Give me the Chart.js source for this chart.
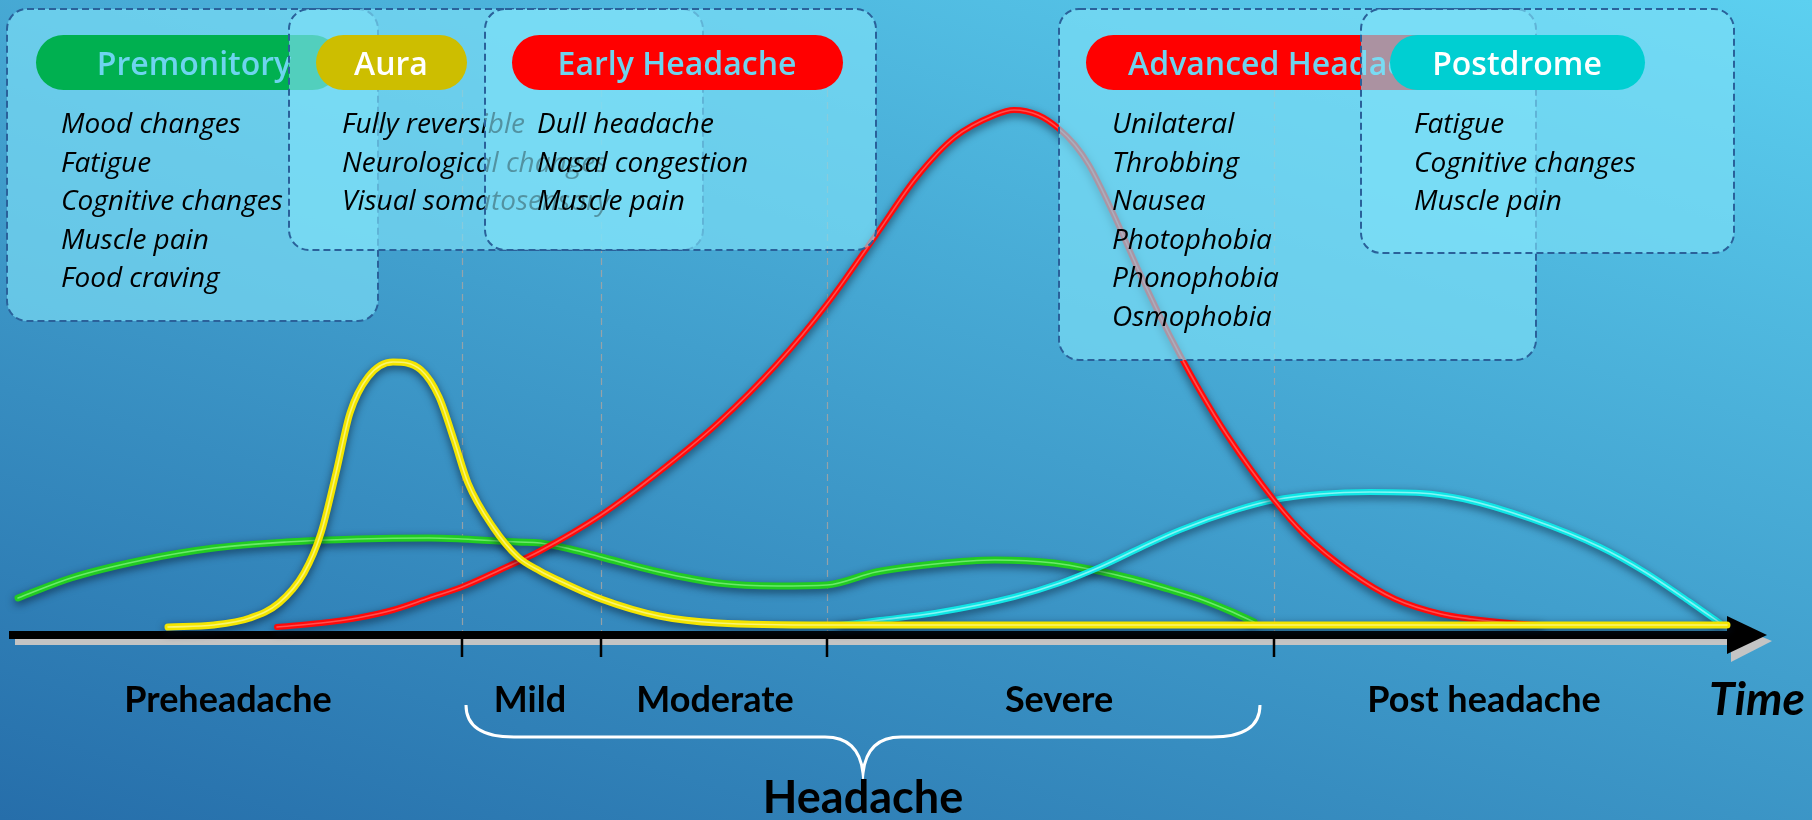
<!DOCTYPE html>
<html><head><meta charset="utf-8">
<script src="https://cdn.jsdelivr.net/npm/chart.js@4.4.1/dist/chart.umd.min.js"></script>
<style>html,body{margin:0;padding:0;background:#3a9ccb;overflow:hidden}canvas{display:block}</style>
</head><body><canvas id="c" width="1812" height="820"></canvas>
<script>
// ---- Data (time on x, symptom intensity on y) ----
const premonitoryT = [18, 71, 143, 214, 286, 357, 429, 462, 518, 540, 570, 601, 659, 718, 777, 827, 876, 935, 995, 1054, 1094, 1133, 1168, 1200, 1230, 1254];
const premonitoryI = [27, 47, 65, 77, 83, 86, 87, 86, 83, 82, 76, 68, 53, 42, 39, 40, 53, 61, 65, 62, 55, 46, 36, 26, 14, 3];

const auraT = [168, 214, 250, 279, 304, 321, 336, 350, 368, 393, 421, 439, 454, 468, 493, 518, 540, 560, 601, 659, 718, 827, 1000, 1200, 1400, 1600, 1727];
const auraI = [-2, 0, 7, 22, 52, 92, 152, 212, 248, 263, 255, 228, 185, 142, 98, 68, 54, 44, 26, 9, 2, 0, 0, 0, 0, 0, 0];

const headacheT = [277, 321, 357, 393, 429, 462, 500, 540, 601, 659, 718, 777, 827, 876, 916, 955, 995, 1014, 1038, 1058, 1075, 1089, 1113, 1137, 1160, 1180, 1200, 1227, 1274, 1304, 1350, 1395, 1441, 1472, 1510, 1540];
const headacheI = [-2, 2, 7, 15, 27, 38, 55, 74, 110, 153, 202, 261, 321, 390, 447, 488, 510, 515, 510, 497, 480, 460, 412, 358, 309, 270, 234, 190, 125, 91, 53, 26, 11, 6, 2, 0];

const postdromeT = [840, 880, 935, 1014, 1060, 1100, 1140, 1180, 1236, 1274, 1320, 1370, 1420, 1463, 1531, 1600, 1645, 1690, 1720];
const postdromeI = [0, 5, 12, 28, 42, 58, 77, 95, 115, 125, 131, 133, 132, 126, 106, 78, 53, 23, 2];

const phaseBounds = [462, 601, 827, 1274];
const phaseNames = ['Preheadache', 'Mild', 'Moderate', 'Severe', 'Post headache'];
const phaseCenters = [228, 530, 715, 1059, 1484];
const axisStart = 9, axisArrowBase = 1727, axisEnd = 1767;

const panelTitles = ['Premonitory', 'Aura', 'Early Headache', 'Advanced Headache', 'Postdrome'];
const panelSymptoms = [
  ['Mood changes', 'Fatigue', 'Cognitive changes', 'Muscle pain', 'Food craving'],
  ['Fully reversible', 'Neurological changes', 'Visual somatosensory'],
  ['Dull headache', 'Nasal congestion', 'Muscle pain'],
  ['Unilateral', 'Throbbing', 'Nausea', 'Photophobia', 'Phonophobia', 'Osmophobia'],
  ['Fatigue', 'Cognitive changes', 'Muscle pain']
];

// ---- Layout / style ----
const panelLayout = [
  {bx: 7,    by: 9, bw: 371, bh: 312, px: 36,   pw: 304, cx: 194,  ix: 61,   pill: '#00b050', tc: '#6ed4ee'},
  {bx: 289,  by: 9, bw: 414, bh: 241, px: 316,  pw: 151, cx: 391,  ix: 342,  pill: '#cdbe00', tc: '#ffffff'},
  {bx: 485,  by: 9, bw: 391, bh: 241, px: 512,  pw: 331, cx: 677,  ix: 537,  pill: '#ff0000', tc: '#6ed4ee'},
  {bx: 1059, by: 9, bw: 477, bh: 351, px: 1086, pw: 398, cx: 1285, ix: 1112, pill: '#ff0000', tc: '#6ed4ee'},
  {bx: 1361, by: 9, bw: 373, bh: 244, px: 1390, pw: 255, cx: 1517, ix: 1414, pill: '#00cfd2', tc: '#ffffff'}
];
const pillY = 35, pillH = 55;
const highlightColors = {Aura: 'rgba(255,255,190,0.6)', Headache: 'rgba(255,150,150,0.5)', Postdrome: 'rgba(210,255,255,0.6)', Premonitory: 'rgba(170,255,170,0.55)'};

function pts(t, v) { return t.map((x, i) => ({x: x, y: v[i]})); }

function rr(ctx, x, y, w, h, r) {
  ctx.beginPath();
  ctx.moveTo(x + r, y);
  ctx.lineTo(x + w - r, y);
  ctx.arcTo(x + w, y, x + w, y + r, r);
  ctx.lineTo(x + w, y + h - r);
  ctx.arcTo(x + w, y + h, x + w - r, y + h, r);
  ctx.lineTo(x + r, y + h);
  ctx.arcTo(x, y + h, x, y + h - r, r);
  ctx.lineTo(x, y + r);
  ctx.arcTo(x, y, x + r, y, r);
  ctx.closePath();
}

const decor = {
  id: 'decor',
  beforeDraw(chart) {
    const ctx = chart.ctx, W = chart.width, H = chart.height;
    const g = ctx.createLinearGradient(0, 820, 380, -434);
    g.addColorStop(0, 'rgb(38,110,170)');
    g.addColorStop(1, 'rgb(92,208,240)');
    ctx.save();
    ctx.fillStyle = g;
    ctx.fillRect(0, 0, W, H);
    ctx.restore();
  },
  beforeDatasetsDraw(chart) {
    const ctx = chart.ctx, xs = chart.scales.x, ys = chart.scales.y;
    const y0 = ys.getPixelForValue(0);
    ctx.save();
    ctx.strokeStyle = 'rgba(165,165,165,0.85)';
    ctx.lineWidth = 1.2;
    ctx.setLineDash([7, 5]);
    phaseBounds.forEach(b => {
      const x = Math.round(xs.getPixelForValue(b)) + 0.5;
      ctx.beginPath(); ctx.moveTo(x, 90); ctx.lineTo(x, y0 + 8); ctx.stroke();
    });
    ctx.setLineDash([]);
    const xa = xs.getPixelForValue(axisStart), xb = xs.getPixelForValue(axisArrowBase), xe = xs.getPixelForValue(axisEnd);
    const ay = y0 + 10;
    ctx.fillStyle = '#c4c4c4';
    ctx.fillRect(xa + 6, ay + 4, xb - xa - 4, 6);
    ctx.beginPath(); ctx.moveTo(xb + 4, ay - 11); ctx.lineTo(xe + 5, ay + 6); ctx.lineTo(xb + 4, ay + 27); ctx.closePath(); ctx.fill();
    ctx.fillStyle = '#000';
    ctx.fillRect(xa, ay - 4, xb - xa + 1, 8);
    ctx.beginPath(); ctx.moveTo(xb, ay - 19); ctx.lineTo(xe, ay); ctx.lineTo(xb, ay + 19); ctx.closePath(); ctx.fill();
    ctx.strokeStyle = '#000'; ctx.lineWidth = 2.5;
    phaseBounds.forEach(b => {
      const x = xs.getPixelForValue(b);
      ctx.beginPath(); ctx.moveTo(x, ay); ctx.lineTo(x, ay + 22); ctx.stroke();
    });
    ctx.restore();
  },
  beforeDatasetDraw(chart) {
    const ctx = chart.ctx;
    ctx.save();
    ctx.shadowColor = 'rgba(0,20,40,0.65)';
    ctx.shadowBlur = 8;
    ctx.shadowOffsetY = 3;
  },
  afterDatasetDraw(chart, args) {
    const ctx = chart.ctx;
    ctx.restore();
    const el = args.meta.dataset;
    const label = chart.data.datasets[args.index].label;
    if (el && highlightColors[label]) {
      const orig = el.options;
      el.options = Object.assign({}, orig, {borderColor: highlightColors[label], borderWidth: 1.6});
      ctx.save();
      el.draw(ctx, chart.chartArea);
      ctx.restore();
      el.options = orig;
    }
  },
  afterDatasetsDraw(chart) {
    const ctx = chart.ctx, xs = chart.scales.x, ys = chart.scales.y;
    ctx.save();
    panelLayout.forEach((p, i) => {
      rr(ctx, p.bx, p.by, p.bw, p.bh, 20);
      ctx.fillStyle = 'rgba(126,224,247,0.65)';
      ctx.fill();
      ctx.setLineDash([7, 4]);
      ctx.lineWidth = 2;
      ctx.strokeStyle = '#2a619a';
      ctx.stroke();
      ctx.setLineDash([]);
      rr(ctx, p.px, pillY, p.pw, pillH, pillH / 2);
      ctx.fillStyle = p.pill;
      ctx.fill();
      ctx.fillStyle = p.tc;
      ctx.font = '600 32px "Open Sans"';
      ctx.textAlign = 'center';
      ctx.textBaseline = 'alphabetic';
      ctx.fillText(panelTitles[i], p.cx, 75);
      ctx.fillStyle = '#000';
      ctx.font = 'italic 28px "Open Sans"';
      ctx.textAlign = 'left';
      panelSymptoms[i].forEach((s, k) => ctx.fillText(s, p.ix, 133 + k * 38.5));
    });
    const y0 = ys.getPixelForValue(0);
    ctx.fillStyle = '#000';
    ctx.textAlign = 'center';
    ctx.font = 'bold 36px Lato';
    phaseNames.forEach((n, i) => ctx.fillText(n, xs.getPixelForValue(phaseCenters[i]), y0 + 87));
    ctx.font = 'italic bold 46px Lato';
    ctx.fillText('Time', xs.getPixelForValue(axisEnd) - 10, y0 + 90);
    const L = xs.getPixelForValue(phaseBounds[0]) + 4;
    const R = xs.getPixelForValue(phaseBounds[3]) - 14;
    const M = (L + R) / 2;
    const top = y0 + 80, mid = y0 + 112, tip = y0 + 148;
    ctx.strokeStyle = '#fff';
    ctx.lineWidth = 3;
    ctx.beginPath();
    ctx.moveTo(L, top);
    ctx.quadraticCurveTo(L, mid, L + 48, mid);
    ctx.lineTo(M - 38, mid);
    ctx.quadraticCurveTo(M - 4, mid, M, tip);
    ctx.quadraticCurveTo(M + 4, mid, M + 38, mid);
    ctx.lineTo(R - 48, mid);
    ctx.quadraticCurveTo(R, mid, R, top);
    ctx.stroke();
    ctx.fillStyle = '#000';
    ctx.font = 'bold 45px Lato';
    ctx.fillText('Headache', M, y0 + 188);
    ctx.restore();
  }
};

const common = {pointRadius: 0, borderCapStyle: 'round', borderJoinStyle: 'round', cubicInterpolationMode: 'monotone', fill: false, clip: false};

new Chart(document.getElementById('c'), {
  type: 'line',
  data: {
    datasets: [
      Object.assign({label: 'Aura', data: pts(auraT, auraI), borderColor: '#f3e500', borderWidth: 7, order: 1}, common),
      Object.assign({label: 'Headache', data: pts(headacheT, headacheI), borderColor: '#ff0a0a', borderWidth: 6, order: 2}, common),
      Object.assign({label: 'Postdrome', data: pts(postdromeT, postdromeI), borderColor: '#10e6e6', borderWidth: 6, order: 3}, common),
      Object.assign({label: 'Premonitory', data: pts(premonitoryT, premonitoryI), borderColor: '#22cc22', borderWidth: 7, order: 4}, common)
    ]
  },
  options: {
    responsive: false,
    animation: false,
    devicePixelRatio: 1,
    layout: {padding: 0},
    plugins: {legend: {display: false}, tooltip: {enabled: false}},
    events: [],
    scales: {
      x: {type: 'linear', min: 0, max: 1812, display: false},
      y: {type: 'linear', min: -195, max: 625, display: false}
    }
  },
  plugins: [decor]
});
</script></body></html>
